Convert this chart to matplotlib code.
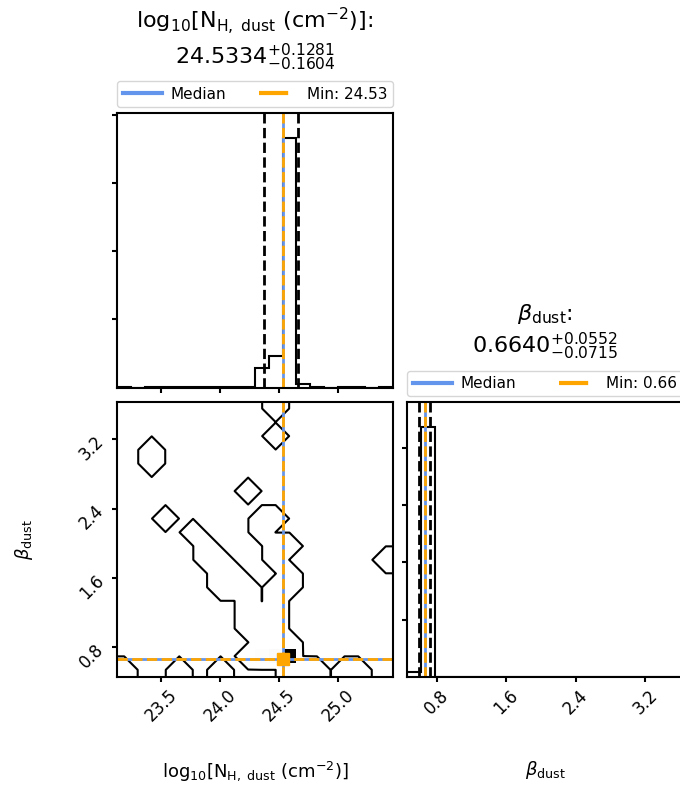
import numpy as np
import matplotlib
matplotlib.use("Agg")
import matplotlib.pyplot as plt
from matplotlib.colors import LinearSegmentedColormap
from matplotlib.lines import Line2D

# ---------------------------------------------------------------------------
# Posterior samples, binned (20 x 20) over the sampled parameter ranges
# ---------------------------------------------------------------------------
nh_range = (23.132, 25.458)      # log10 N_H,dust sample range
beta_range = (0.461, 3.634)      # beta_dust sample range
n_bins = 20

# summary statistics (median, +/- 1 sigma) and minimum-chi2 solution
nh_median, nh_err_hi, nh_err_lo = 24.5334, 0.1281, 0.1604
beta_median, beta_err_hi, beta_err_lo = 0.6640, 0.0552, 0.0715
nh_best, beta_best = 24.53, 0.66

# summed sample weights in (N_H bin, beta bin); empty bins are not listed
main_cells = [(12, 1, 181.7), (11, 1, 23.0), (10, 1, 13.9),
              (13, 0, 2.9), (12, 0, 1.5)]
sparse_weight = 0.005
sparse_cells = [
    (2, 16), (2, 15), (9, 13), (3, 11), (11, 19), (11, 17), (19, 8),
    (0, 0), (4, 0), (7, 0), (16, 0), (17, 0),
    (5, 10), (6, 9), (7, 8), (8, 7), (9, 6), (6, 8), (7, 7), (7, 6),
    (8, 6), (9, 5), (9, 4), (9, 3), (9, 1), (10, 4), (10, 3), (10, 2),
    (11, 2), (10, 11), (11, 11), (10, 10), (11, 9), (12, 9), (11, 8),
    (12, 7), (12, 6), (11, 6), (11, 5), (11, 4), (11, 3), (12, 2), (14, 0),
]
contour_level = 0.0001

nh_ticks = [23.5, 24.0, 24.5, 25.0]
beta_ticks = [0.8, 1.6, 2.4, 3.2]
count_ticks = [50, 100, 150, 200]

nh_label = r"log$_{10}$[N$_{\rm H,\ dust}$ (cm$^{-2}$)]"
beta_label = r"$\beta_{\rm dust}$"

# ---------------------------------------------------------------------------
median_color = "#6495ED"
best_color = "#FFA500"

hist2d = np.zeros((n_bins, n_bins))
for i, j in sparse_cells:
    hist2d[i, j] = sparse_weight
for i, j, w in main_cells:
    hist2d[i, j] = w

nh_edges = np.linspace(*nh_range, n_bins + 1)
beta_edges = np.linspace(*beta_range, n_bins + 1)
nh_hist = hist2d.sum(axis=1)
beta_hist = hist2d.sum(axis=0)

fig = plt.figure(figsize=(6.8, 7.92), dpi=100)

W, H = 680.0, 792.0
size_w, size_h = 275.4 / W, 275.0 / H
left1, left2 = 117.3 / W, 407.3 / W
bottom_low = (H - 676.7) / H
bottom_top = (H - 387.5) / H

ax_nh = fig.add_axes([left1, bottom_top, size_w, size_h])
ax_2d = fig.add_axes([left1, bottom_low, size_w, size_h])
ax_beta = fig.add_axes([left2, bottom_low, size_w, size_h])

for ax in (ax_nh, ax_2d, ax_beta):
    for sp in ax.spines.values():
        sp.set_linewidth(1.5)
    ax.tick_params(width=1.5, length=3.5, labelsize=12)


def marginal(ax, values, edges, med, lo, hi, best, title):
    ax.stairs(values, edges, color="k", lw=1.5, baseline=0)
    for q in (med - lo, med + hi):
        ax.axvline(q, color="k", ls="--", lw=2)
    ax.axvline(med, color=median_color, lw=2)
    ax.axvline(best, color=best_color, lw=2, ls="--")
    ax.set_xlim(edges[0], edges[-1])
    ax.set_ylim(0, 1.1 * values.max())
    ax.set_yticks(count_ticks)
    ax.set_yticklabels([])
    handles = [Line2D([], [], color=median_color, lw=3),
               Line2D([], [], color=best_color, lw=3, dashes=(7, 3))]
    ax.legend(handles, ["Median", f"Min: {best:.2f}"], loc="lower left",
              bbox_to_anchor=(0, 1.02, 1, 0.1), mode="expand", ncol=2,
              borderaxespad=0, fontsize=11, handlelength=2.6,
              handletextpad=0.5, borderpad=0.35)
    ax.set_title(title, fontsize=16, pad=35)


marginal(ax_nh, nh_hist, nh_edges, nh_median, nh_err_lo, nh_err_hi, nh_best,
         nh_label + ":\n" +
         rf"${nh_median:.4f}^{{+{nh_err_hi:.4f}}}_{{-{nh_err_lo:.4f}}}$")
ax_nh.set_xticks(nh_ticks)
ax_nh.set_xticklabels([])

marginal(ax_beta, beta_hist, beta_edges, beta_median, beta_err_lo,
         beta_err_hi, beta_best,
         beta_label + ":\n" +
         rf"${beta_median:.4f}^{{+{beta_err_hi:.4f}}}_{{-{beta_err_lo:.4f}}}$")
ax_beta.set_xticks(beta_ticks)
ax_beta.set_xticklabels([f"{t:.1f}" for t in beta_ticks], rotation=45)
ax_beta.set_xlabel(beta_label, fontsize=13)
ax_beta.xaxis.set_label_coords(0.5, -0.3)

# joint distribution: density + outer contour
density_cmap = LinearSegmentedColormap.from_list("density", ["k", (1, 1, 1, 0)])
peak = hist2d.max()
ax_2d.pcolormesh(nh_edges, beta_edges, (peak - hist2d).T, cmap=density_cmap,
                 vmin=0, vmax=peak, shading="flat")

xc = 0.5 * (nh_edges[1:] + nh_edges[:-1])
yc = 0.5 * (beta_edges[1:] + beta_edges[:-1])
dx, dy = xc[1] - xc[0], yc[1] - yc[0]
xp = np.concatenate([xc[0] + np.array([-2, -1]) * dx, xc,
                     xc[-1] + np.array([1, 2]) * dx])
yp = np.concatenate([yc[0] + np.array([-2, -1]) * dy, yc,
                     yc[-1] + np.array([1, 2]) * dy])
padded = np.zeros((n_bins + 4, n_bins + 4))
padded[2:-2, 2:-2] = hist2d
padded[2:-2, 1] = hist2d[:, 0]
padded[2:-2, -2] = hist2d[:, -1]
padded[1, 2:-2] = hist2d[0]
padded[-2, 2:-2] = hist2d[-1]
padded[1, 1] = hist2d[0, 0]
padded[1, -2] = hist2d[0, -1]
padded[-2, 1] = hist2d[-1, 0]
padded[-2, -2] = hist2d[-1, -1]
ax_2d.contour(xp, yp, padded.T, [contour_level], colors="k", linewidths=1.5)

ax_2d.axvline(nh_median, color=median_color, lw=2)
ax_2d.axvline(nh_best, color=best_color, lw=2, ls="--")
ax_2d.axhline(beta_median, color=median_color, lw=2)
ax_2d.axhline(beta_best, color=best_color, lw=2, ls="--")
ax_2d.plot(nh_best, beta_best, "s", color=best_color, ms=9)

ax_2d.set_xlim(*nh_range)
ax_2d.set_ylim(*beta_range)
ax_2d.set_xticks(nh_ticks)
ax_2d.set_xticklabels([f"{t:.1f}" for t in nh_ticks], rotation=45)
ax_2d.set_yticks(beta_ticks)
ax_2d.set_yticklabels([f"{t:.1f}" for t in beta_ticks], rotation=45)
ax_2d.set_xlabel(nh_label, fontsize=13)
ax_2d.set_ylabel(beta_label, fontsize=13)
ax_2d.xaxis.set_label_coords(0.5, -0.3)
ax_2d.yaxis.set_label_coords(-0.3, 0.5)

fig.savefig("out.png", dpi=100)
